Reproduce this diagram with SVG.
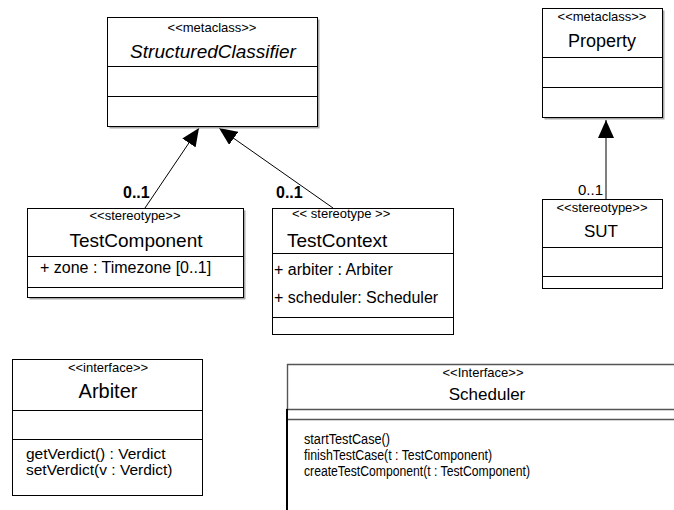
<svg xmlns="http://www.w3.org/2000/svg" width="674" height="510" viewBox="0 0 674 510">
<style>
text{font-family:"Liberation Sans",Arial,sans-serif;fill:#000}
.c{text-anchor:middle}
.box{fill:#fff;stroke:#000;stroke-width:1}
.sh{fill:#a8a8a8;stroke:none}
.div{stroke:#000;stroke-width:1}
.st{font-size:13px}
.nm{font-size:19px}
.at{font-size:16px}
.me{font-size:15.5px}
.mul{font-size:16px;font-weight:bold}
.conn{stroke:#000;stroke-width:1;fill:none}
.gl{stroke:#555;stroke-width:1.4}
.op{font-size:15.5px}
</style>
<defs>
<marker id="tri" markerUnits="userSpaceOnUse" markerWidth="18" markerHeight="16" viewBox="0 0 18 16" refX="18" refY="8" orient="auto">
<path d="M0,0 L18,8 L0,16 z" fill="#000"/>
</marker>
</defs>
<g id="connectors">
<line class="conn" x1="145" y1="208" x2="199" y2="128" marker-end="url(#tri)"/>
<line class="conn" x1="333" y1="208" x2="219" y2="128" marker-end="url(#tri)"/>
<line class="conn" x1="606" y1="199" x2="606" y2="120" marker-end="url(#tri)"/>
<text class="mul" x="123" y="198">0..1</text>
<text class="mul" x="276" y="198">0..1</text>
<text x="578" y="195" font-size="15px">0..1</text>
</g>
<g id="StructuredClassifier">
<rect class="sh" x="109.5" y="19.5" width="210" height="109"/>
<rect class="box" x="107.5" y="17.5" width="210" height="109"/>
<line class="div" x1="107.5" y1="66.5" x2="317.5" y2="66.5"/>
<line class="div" x1="107.5" y1="96.5" x2="317.5" y2="96.5"/>
<text class="st c" x="212" y="32">&lt;&lt;metaclass&gt;&gt;</text>
<text class="nm c" x="213" y="58" font-style="italic">StructuredClassifier</text>
</g>
<g id="Property">
<rect class="sh" x="544.5" y="10.5" width="120" height="109"/>
<rect class="box" x="542.5" y="8.5" width="120" height="109"/>
<line class="div" x1="542.5" y1="57.5" x2="662.5" y2="57.5"/>
<line class="div" x1="542.5" y1="87.5" x2="662.5" y2="87.5"/>
<text class="st c" x="602" y="21">&lt;&lt;metaclass&gt;&gt;</text>
<text class="c" x="602" y="47" font-size="18px">Property</text>
</g>
<g id="TestComponent">
<rect class="sh" x="29.5" y="210.5" width="216" height="89"/>
<rect class="box" x="27.5" y="208.5" width="216" height="89"/>
<line class="div" x1="27.5" y1="256.5" x2="243.5" y2="256.5"/>
<line class="div" x1="27.5" y1="287.5" x2="243.5" y2="287.5"/>
<text class="st c" x="135" y="220">&lt;&lt;stereotype&gt;&gt;</text>
<text class="nm c" x="136" y="247">TestComponent</text>
<text class="at" x="40" y="273">+ zone : Timezone [0..1]</text>
</g>
<g id="TestContext">
<rect class="box" x="272.5" y="208.5" width="181" height="126"/>
<line class="div" x1="272.5" y1="253.5" x2="453.5" y2="253.5"/>
<line class="div" x1="272.5" y1="317.5" x2="453.5" y2="317.5"/>
<text class="st" x="292" y="218">&lt;&lt; stereotype &gt;&gt;</text>
<text class="nm" x="287" y="247">TestContext</text>
<text class="at" x="274" y="275">+ arbiter : Arbiter</text>
<text class="at" x="274" y="303">+ scheduler: Scheduler</text>
</g>
<g id="SUT">
<rect class="box" x="542.5" y="199.5" width="120" height="89"/>
<line class="div" x1="542.5" y1="247.5" x2="662.5" y2="247.5"/>
<line class="div" x1="542.5" y1="276.5" x2="662.5" y2="276.5"/>
<text class="st c" x="602" y="212">&lt;&lt;stereotype&gt;&gt;</text>
<text class="c" x="601" y="237" font-size="17px">SUT</text>
</g>
<g id="Arbiter">
<rect class="box" x="12.5" y="359.5" width="190" height="136"/>
<line class="div" x1="12.5" y1="410.5" x2="202.5" y2="410.5"/>
<line class="div" x1="12.5" y1="439.5" x2="202.5" y2="439.5"/>
<text class="st c" x="108" y="372">&lt;&lt;interface&gt;&gt;</text>
<text class="c" x="108" y="398" font-size="20px">Arbiter</text>
<text class="me" x="26" y="459">getVerdict() : Verdict</text>
<text class="me" x="26" y="475">setVerdict(v : Verdict)</text>
</g>
<g id="Scheduler">
<rect x="287" y="364" width="400" height="160" fill="#fff"/>
<line class="gl" x1="287" y1="364.5" x2="674" y2="364.5"/>
<line class="gl" x1="287.5" y1="364" x2="287.5" y2="410"/>
<line class="gl" x1="286" y1="409.5" x2="674" y2="409.5"/>
<line class="gl" x1="286" y1="419.5" x2="674" y2="419.5"/>
<line stroke="#000" stroke-width="2" x1="287" y1="409" x2="287" y2="510"/>
<text class="st c" x="483" y="377">&lt;&lt;Interface&gt;&gt;</text>
<text class="c" x="487" y="400" font-size="17px">Scheduler</text>
<text class="op" x="304" y="444" textLength="86" lengthAdjust="spacingAndGlyphs">startTestCase()</text>
<text class="op" x="304" y="460" textLength="188" lengthAdjust="spacingAndGlyphs">finishTestCase(t : TestComponent)</text>
<text class="op" x="304" y="476" textLength="226" lengthAdjust="spacingAndGlyphs">createTestComponent(t : TestComponent)</text>
</g>
</svg>
